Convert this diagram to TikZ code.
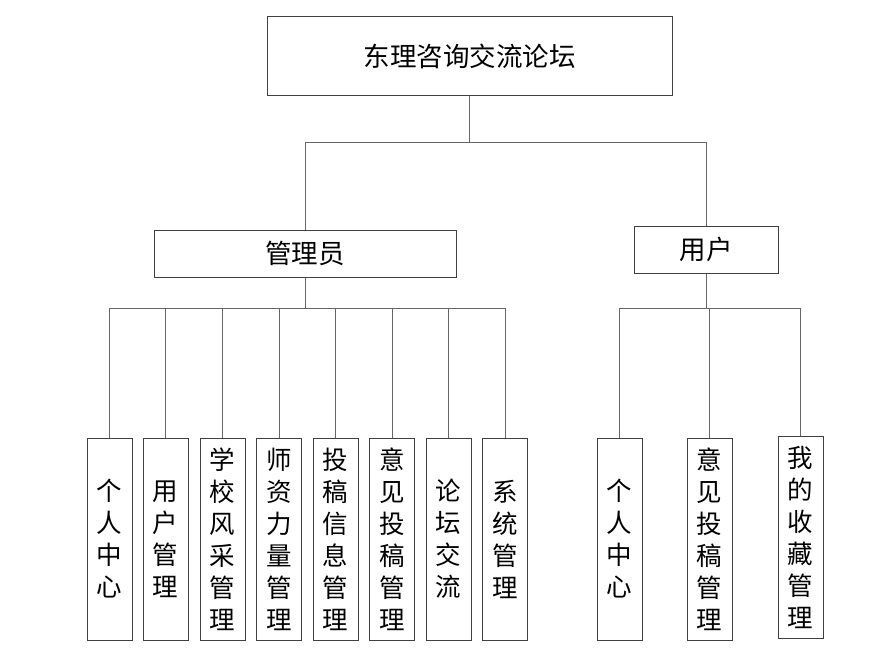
\documentclass[tikz,border=0pt]{standalone}
\usepackage{fontspec}
\newfontfamily\cjk{Noto Sans CJK SC}
\usepackage{tikz}

\begin{document}
\begin{tikzpicture}[x=1pt, y=-1pt,
  box/.style={draw=black!75, line width=1pt, inner sep=0pt, align=center},
  leaf/.style={box, minimum width=45pt, minimum height=202pt,
    font=\cjk\fontsize{25.5}{32}\selectfont},
  link/.style={draw=black!60, line width=1pt}]
  \useasboundingbox (0,0) rectangle (889,661);

  \node[box, minimum width=405pt, minimum height=78pt, font=\cjk\fontsize{26.5}{30}\selectfont]
    (forum) at (469.5,56) {东理咨询交流论坛};

  \node[box, minimum width=302pt, minimum height=47pt, font=\cjk\fontsize{26.5}{30}\selectfont]
    (admin) at (305,253.5) {管理员};
  \node[box, minimum width=144pt, minimum height=47pt, font=\cjk\fontsize{26.5}{30}\selectfont]
    (user) at (706,249.5) {用户};

  \coordinate (top) at (469.5,142);
  \coordinate (abus) at (305,308);
  \coordinate (ubus) at (706,308);

  % admin side
  \node[leaf] (a1) at (109.5,539) {个\\人\\中\\心};
  \node[leaf] (a2) at (165.5,539) {用\\户\\管\\理};
  \node[leaf] (a3) at (222.5,539) {学\\校\\风\\采\\管\\理};
  \node[leaf] (a4) at (279,539) {师\\资\\力\\量\\管\\理};
  \node[leaf] (a5) at (335.5,539) {投\\稿\\信\\息\\管\\理};
  \node[leaf] (a6) at (392,539) {意\\见\\投\\稿\\管\\理};
  \node[leaf] (a7) at (448.5,539) {论\\坛\\交\\流};
  \node[leaf] (a8) at (505,539) {系\\统\\管\\理};

  % user side
  \node[leaf] (u1) at (619.5,539) {个\\人\\中\\心};
  \node[leaf] (u2) at (709.5,539) {意\\见\\投\\稿\\管\\理};
  \node[leaf] (u3) at (800.5,537.5) {我\\的\\收\\藏\\管\\理};

  \draw[link] (forum.south) -- (top);
  \draw[link] (admin.north) -- (admin.north |- top) -| (user.north);

  \draw[link] (admin.south) -- (abus);
  \draw[link] (abus -| a1.north) -- (abus -| a8.north);
  \draw[link] (abus -| a1.north) -- (a1.north);
  \draw[link] (abus -| a2.north) -- (a2.north);
  \draw[link] (abus -| a3.north) -- (a3.north);
  \draw[link] (abus -| a4.north) -- (a4.north);
  \draw[link] (abus -| a5.north) -- (a5.north);
  \draw[link] (abus -| a6.north) -- (a6.north);
  \draw[link] (abus -| a7.north) -- (a7.north);
  \draw[link] (abus -| a8.north) -- (a8.north);

  \draw[link] (user.south) -- (ubus);
  \draw[link] (ubus -| u1.north) -- (ubus -| u3.north);
  \draw[link] (ubus -| u1.north) -- (u1.north);
  \draw[link] (ubus -| u2.north) -- (u2.north);
  \draw[link] (ubus -| u3.north) -- (u3.north);
\end{tikzpicture}
\end{document}
